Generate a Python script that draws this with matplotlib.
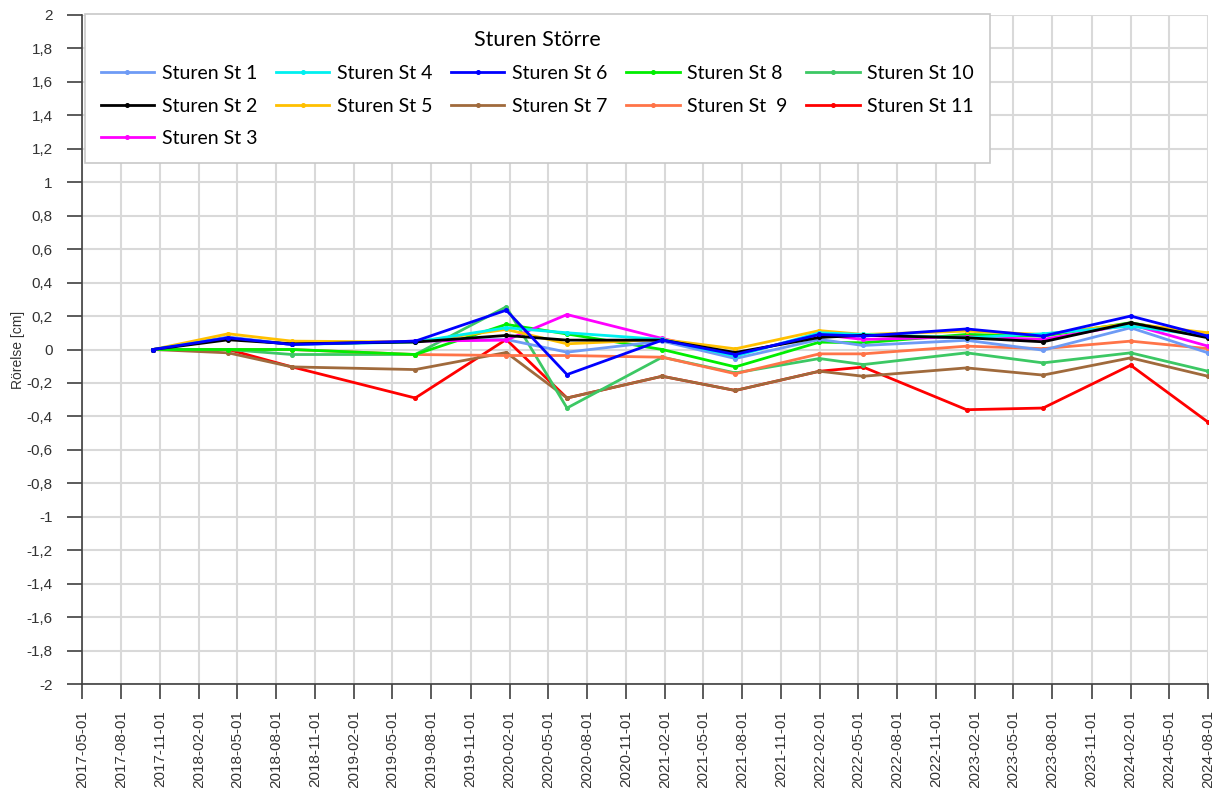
import matplotlib
matplotlib.use("Agg")
import matplotlib.pyplot as plt
import matplotlib.dates as mdates
import numpy as np
import datetime as dt

# ---- data ----
dates = ['2017-10-15', '2018-04-10', '2018-09-07', '2019-06-24', '2020-01-24',
         '2020-06-15', '2021-01-25', '2021-07-16', '2022-01-30', '2022-05-13',
         '2023-01-11', '2023-07-10', '2024-02-01', '2024-08-01']

series_names = ['Sturen St 1', 'Sturen St 2', 'Sturen St 3', 'Sturen St 4',
                'Sturen St 5', 'Sturen St 6', 'Sturen St 7', 'Sturen St 8',
                'Sturen St  9', 'Sturen St 10', 'Sturen St 11']

st1 = [0, 0.075, 0.03, 0.05, 0.06, -0.016, 0.05, -0.054, 0.06, 0.024, 0.055, -0.004, 0.13, -0.02]
st2 = [0, 0.058, 0.034, 0.045, 0.084, 0.056, 0.056, -0.018, 0.072, 0.085, 0.07, 0.046, 0.16, 0.07]
st3 = [0, 0.07, 0.03, 0.05, 0.056, 0.209, 0.066, -0.03, 0.09, 0.06, 0.076, 0.06, 0.15, 0.02]
st4 = [0, 0.07, 0.03, 0.045, 0.13, 0.1, 0.06, -0.04, 0.1, 0.09, 0.07, 0.094, 0.14, 0.08]
st5 = [0, 0.094, 0.05, 0.045, 0.12, 0.034, 0.06, 0.004, 0.113, 0.09, 0.11, 0.09, 0.155, 0.1]
st6 = [0, 0.07, 0.03, 0.05, 0.235, -0.15, 0.056, -0.03, 0.09, 0.08, 0.123, 0.08, 0.2, 0.08]
st7 = [0, -0.02, -0.104, -0.12, -0.018, -0.29, -0.16, -0.245, -0.13, -0.16, -0.11, -0.153, -0.05, -0.16]
st8 = [0, 0.0, 0.0, -0.03, 0.15, 0.093, 0.0, -0.104, 0.044, 0.04, 0.09, 0.08, 0.16, 0.08]
st9 = [0, 0.0, 0.0, -0.03, -0.036, -0.036, -0.046, -0.145, -0.026, -0.026, 0.02, 0.005, 0.05, 0.005]
st10 = [0, 0.0, -0.03, -0.03, 0.255, -0.35, -0.046, -0.14, -0.054, -0.09, -0.02, -0.08, -0.02, -0.13]
st11 = [0, 0.0, -0.104, -0.29, 0.06, -0.29, -0.16, -0.245, -0.13, -0.105, -0.36, -0.35, -0.094, -0.434]

y_ticks = [-2, -1.8, -1.6, -1.4, -1.2, -1, -0.8, -0.6, -0.4, -0.2, 0,
           0.2, 0.4, 0.6, 0.8, 1, 1.2, 1.4, 1.6, 1.8, 2]

colors = ['#6E9BF5', '#000000', '#FF00FF', '#00F0F0', '#FFC000', '#0000FF',
          '#A06A3C', '#00EE00', '#FF7448', '#3CC864', '#FF0000']

all_series = [st1, st2, st3, st4, st5, st6, st7, st8, st9, st10, st11]

x = [dt.datetime.strptime(d, '%Y-%m-%d') for d in dates]

fig = plt.figure(figsize=(12.19, 7.88), dpi=100)
ax = fig.add_axes([82/1219, 1-684/788, (1208-82)/1219, (684-15)/788])

handles = {}
order = [10, 6, 9, 8, 7, 0, 2, 4, 3, 1, 5]
for i in order:
    h, = ax.plot(x, all_series[i], color=colors[i], lw=2.0, marker='o',
                 markersize=2.6, label=series_names[i], zorder=3)
    handles[i] = h

ax.set_ylim(-2, 2)
ax.set_xlim(dt.datetime(2017, 5, 1), dt.datetime(2024, 8, 1))
ax.set_yticks(y_ticks)
ax.set_yticklabels([('%g' % v).replace('.', ',') for v in y_ticks])
ax.xaxis.set_major_locator(mdates.MonthLocator(bymonth=[2, 5, 8, 11], bymonthday=1))
ax.xaxis.set_major_formatter(mdates.DateFormatter('%Y-%m-%d'))

for lab in ax.get_xticklabels():
    lab.set_rotation(90)

ax.tick_params(axis='both', direction='out', length=11, width=1.2, color='#404040',
               labelsize=11, labelcolor='#333333')
ax.tick_params(axis='y', pad=10)
ax.tick_params(axis='x', pad=8)
for lab in ax.get_xticklabels() + ax.get_yticklabels():
    lab.set_family('Liberation Sans')

ax.grid(True, color='#D9D9D9', lw=1.5, zorder=0)
ax.set_axisbelow(True)
for s in ['top', 'right']:
    ax.spines[s].set_visible(False)
for s in ['left', 'bottom']:
    ax.spines[s].set_color('#404040')
    ax.spines[s].set_linewidth(1.2)

ax.set_ylabel('Rörelse [cm]', fontsize=10, family='Liberation Sans', color='#333333')
ax.yaxis.set_label_coords(-0.0505, 0.5)

leg = ax.legend([handles[i] for i in range(11)], series_names, ncol=5,
                loc='upper left', bbox_to_anchor=(85/1219, 1-14/788),
                bbox_transform=fig.transFigure,
                title='Sturen Större', fancybox=False, framealpha=1,
                edgecolor='#C8C8C8', prop={'family': 'Lato', 'size': 14},
                title_fontproperties={'family': 'Lato', 'size': 15.5},
                handlelength=2.75, handletextpad=0.4, columnspacing=0.95,
                labelspacing=0.8, borderpad=0.8, borderaxespad=0)
leg.get_frame().set_linewidth(1.2)
leg.set_zorder(5)

fig.savefig('out.png', dpi=100)
